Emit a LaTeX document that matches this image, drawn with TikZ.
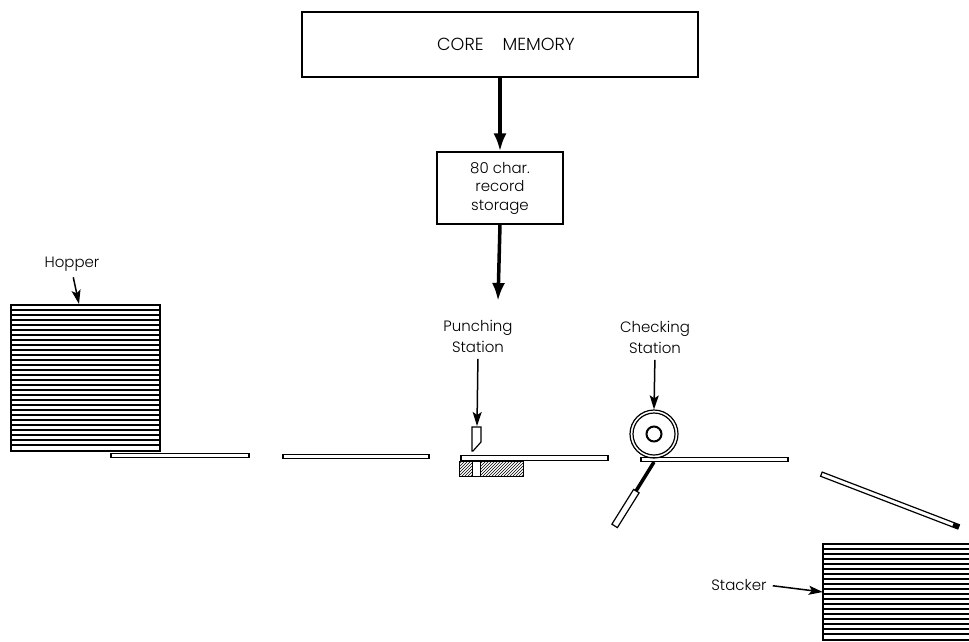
\documentclass[tikz,border=0pt]{standalone}
\usepackage{fontspec}
\setmainfont{Poppins Light}
\usepackage{tikz}
\usetikzlibrary{arrows.meta,patterns}

\begin{document}
\begin{tikzpicture}[x=1pt,y=-1pt]
\tikzstyle{every node}=[inner sep=0pt, align=center, font=\fontsize{15}{21}\selectfont]
\tikzstyle{box}=[draw, line width=1.2pt, rectangle]
\tikzstyle{card}=[draw, line width=1.2pt, rectangle, minimum height=4.5pt, fill=white]
\tikzstyle{heavy}=[-{Latex[length=18pt,width=13pt]}, line width=3.5pt]
\tikzstyle{pointer}=[-{Stealth[length=14pt,width=9pt,inset=3pt]}, line width=1.5pt]
\useasboundingbox (0,0) rectangle (969,641);
\draw (500,44.5) node (core) [box, minimum width=396pt, minimum height=65pt, font=\fontsize{17.5}{21}\selectfont] {\hspace{12pt}CORE\hspace{19pt}MEMORY};
\draw (500,188) node (storage) [box, minimum width=126pt, minimum height=72pt, font=\fontsize{15}{18.5}\selectfont] {80 char.\\record\\storage};
\draw (498,301) coordinate (punchin);
\draw[heavy] (core.south) -- (storage.north);
\draw[heavy] (storage.south) -- (punchin);
\draw (85.5,378) node (hopper) [box, line width=1.3pt, minimum width=149pt, minimum height=146pt] {};
\foreach \i in {1,...,28} \draw[line width=1.4pt] (11,305+5*\i) -- (160,305+5*\i);
\draw (180,455.5) node (card1) [card, minimum width=138pt] {};
\draw (356,456.5) node (card2) [card, minimum width=146pt] {};
\draw (534.5,458) node (card3) [card, minimum width=147pt] {};
\draw (714.5,459.5) node (card4) [card, minimum width=147pt] {};
\draw (890,500.5) node (card5) [card, minimum width=147pt, rotate=-21] {};
\draw (958.6,526.8) coordinate (card5tip);
\draw (953,524.6) coordinate (card5dark);
\draw[line width=4.5pt] (card5dark) -- (card5tip);
\draw[line width=1pt, pattern=north east lines] (459,461) rectangle (523,476);
\draw (476,468.5) node (hole) [draw, line width=1pt, fill=white, minimum width=8pt, minimum height=15pt] {};
\draw[line width=1.2pt, fill=white] (472,427) -- (481,427) -- (481,442) -- (473,451) -- (472,451) -- cycle;
\draw (477,426) coordinate (punch);
\draw (654,434) node (roller) [draw, line width=1.2pt, circle, minimum size=48pt] {};
\draw (654,434) node (rollerin) [draw, line width=1.2pt, circle, minimum size=42pt] {};
\draw (654,434) node (hub) [draw, line width=2pt, circle, minimum size=15pt] {};
\draw (654,462) coordinate (brushtop);
\draw (636,491) coordinate (brushmid);
\draw[line width=3.5pt] (brushtop) -- (brushmid);
\draw (625.5,508.5) node (sleeve) [card, minimum width=41pt, minimum height=6.5pt, rotate=58] {};
\draw (896,592) node (stacker) [minimum width=146pt, minimum height=96pt] {};
\draw[line width=1.3pt] (969,544) -- (823,544) -- (823,640) -- (969,640);
\foreach \i in {1,...,18} \draw[line width=1.4pt] (823,544+5*\i) -- (969,544+5*\i);
\draw (72,264) node (lhopper) {Hopper};
\draw (79,304) coordinate (hopperin);
\draw (478,336.5) node (lpunch) {Punching\\Station};
\draw (655,337.5) node (lcheck) {Checking\\Station};
\draw (739,585) node (lstacker) {Stacker};
\draw[pointer, shorten <=6pt] (lhopper.south) -- (hopperin);
\draw[pointer, shorten <=6pt] (lpunch.south) -- (punch);
\draw[pointer, shorten <=6pt] (lcheck.south) -- (roller.north);
\draw[pointer, shorten <=6pt] (lstacker.east) -- (stacker.west);
\end{tikzpicture}
\end{document}
